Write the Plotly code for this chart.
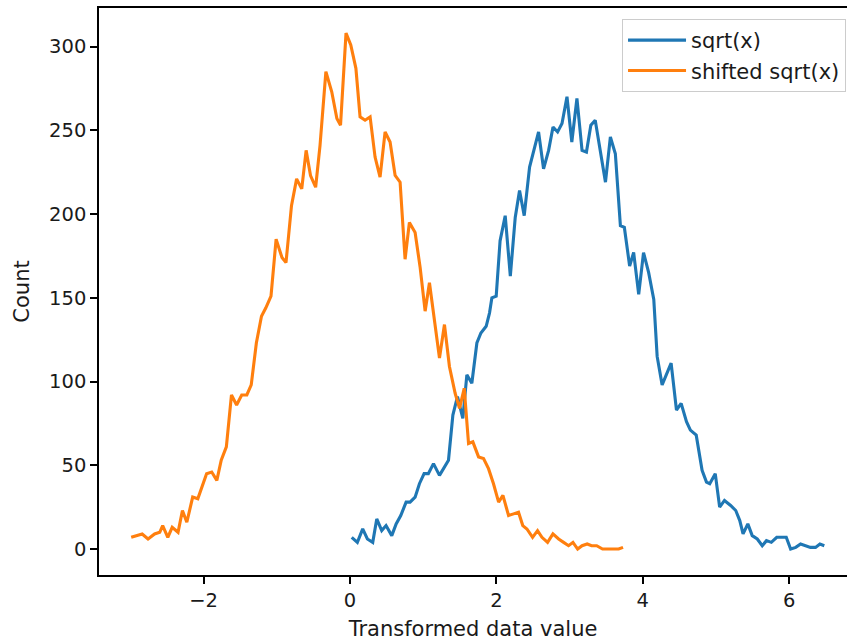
import plotly.graph_objects as go

# sqrt(x) histogram counts (bin position, count)
sqrt_x = [0.023, 0.10, 0.173, 0.237, 0.31, 0.365, 0.433, 0.492, 0.57, 0.63, 0.693, 0.766, 0.82, 0.889,
          0.948, 1.012, 1.07, 1.14, 1.222, 1.286, 1.345, 1.405, 1.468, 1.541, 1.596, 1.664, 1.733, 1.788,
          1.86, 1.906, 1.938, 1.997, 2.05, 2.12, 2.19, 2.257, 2.316, 2.38, 2.453, 2.576, 2.644, 2.713,
          2.773, 2.836, 2.896, 2.964, 3.03, 3.10, 3.17, 3.23, 3.29, 3.35, 3.42, 3.49, 3.557, 3.625, 3.694,
          3.748, 3.82, 3.875, 3.944, 4.01, 4.08, 4.15, 4.196, 4.264, 4.387, 4.46, 4.524, 4.597, 4.65, 4.73,
          4.81, 4.87, 4.915, 4.99, 5.05, 5.116, 5.2, 5.27, 5.325, 5.37, 5.435, 5.495, 5.564, 5.632, 5.69,
          5.756, 5.83, 5.906, 5.96, 6.02, 6.09, 6.156, 6.22, 6.29, 6.36, 6.42, 6.48]
sqrt_count = [7, 4, 12, 6, 4, 18, 11, 14, 8, 15, 20, 28, 28, 31,
              39, 45, 45, 51, 44, 49, 53, 80, 91, 78, 104, 99, 123, 129,
              133, 141, 150, 151, 184, 199, 163, 198, 214, 199, 228, 249, 227, 238,
              252, 249, 254, 270, 243, 269, 238, 237, 253, 256, 238, 219, 246, 236, 193,
              192, 169, 177, 152, 177, 165, 149, 115, 98, 111, 83, 87, 76, 71, 68,
              47, 40, 39, 45, 25, 29, 26, 23, 17, 9, 15, 8, 6, 2, 5,
              4, 7, 7, 7, 0, 1, 3, 2, 1, 1, 3, 2]

# shifted sqrt(x) histogram counts
shift_x = [-2.99, -2.84, -2.76, -2.67, -2.60, -2.56, -2.49, -2.43, -2.35, -2.29, -2.23, -2.15, -2.08,
           -1.96, -1.89, -1.82, -1.76, -1.69, -1.62, -1.55, -1.48, -1.41, -1.35, -1.28, -1.21, -1.15,
           -1.08, -1.01, -0.93, -0.875, -0.80, -0.73, -0.66, -0.60, -0.54, -0.47, -0.41, -0.33, -0.25,
           -0.18, -0.13, -0.055, 0.01, 0.08, 0.137, 0.205, 0.274, 0.342, 0.41, 0.479, 0.547, 0.616,
           0.684, 0.752, 0.811, 0.889, 0.958, 1.026, 1.085, 1.15, 1.222, 1.29, 1.358, 1.436, 1.496,
           1.56, 1.619, 1.678, 1.756, 1.824, 1.892, 1.96, 2.03, 2.089, 2.166, 2.234, 2.302, 2.36,
           2.417, 2.494, 2.562, 2.622, 2.699, 2.772, 2.85, 2.918, 2.986, 3.046, 3.11, 3.17, 3.24,
           3.30, 3.37, 3.45, 3.53, 3.60, 3.67, 3.73]
shift_count = [7, 9, 6, 9, 10, 14, 7, 13, 10, 23, 16, 31, 30,
               45, 46, 41, 53, 61, 92, 86, 92, 92, 98, 123, 139, 144,
               151, 185, 174, 171, 205, 221, 215, 238, 223, 216, 241, 285, 273,
               257, 253, 308, 301, 287, 258, 256, 258, 234, 222, 249, 243, 223,
               219, 173, 195, 189, 168, 142, 159, 136, 114, 134, 109, 93, 84,
               96, 63, 64, 55, 54, 48, 39, 28, 32, 20, 21, 22, 14,
               12, 7, 11, 7, 4, 9, 6, 4, 2, 4, 0, 2, 3,
               2, 2, 0, 0, 0, 0, 1]

x_ticks = [-2, 0, 2, 4, 6]
x_ticktext = ["\u22122", "0", "2", "4", "6"]
y_ticks = [0, 50, 100, 150, 200, 250, 300]

FONT = "DejaVu Sans"
TICK_FS = 19.5
TEXT_FS = 21
TEXT_COLOR = "#1a1a1a"

fig = go.Figure()
fig.add_trace(go.Scatter(x=sqrt_x, y=sqrt_count, mode="lines", name="sqrt(x)",
                         line=dict(color="#1f77b4", width=3.1)))
fig.add_trace(go.Scatter(x=shift_x, y=shift_count, mode="lines", name="shifted sqrt(x)",
                         line=dict(color="#ff7f0e", width=3.1)))

fig.update_layout(
    width=847, height=641,
    margin=dict(l=99, r=0, t=8, b=66),
    plot_bgcolor="white", paper_bgcolor="white",
    font=dict(family=FONT, size=TICK_FS, color=TEXT_COLOR),
    showlegend=True,
    legend=dict(x=0.9987, y=1 - 11 / 567, xanchor="right", yanchor="top",
                bordercolor="#cccccc", borderwidth=1, bgcolor="rgba(255,255,255,0.8)",
                itemwidth=58,
                font=dict(family=FONT, size=TEXT_FS, color=TEXT_COLOR)),
    xaxis=dict(range=[-3.43, 6.79], tickvals=x_ticks, ticktext=x_ticktext,
               showline=True, linecolor="black", linewidth=1.5, mirror=True,
               ticks="outside", ticklen=7, tickwidth=1.5, tickcolor="black",
               showgrid=False, zeroline=False,
               tickfont=dict(family=FONT, size=TICK_FS, color=TEXT_COLOR),
               title=dict(text="Transformed data value", standoff=12,
                          font=dict(family=FONT, size=TEXT_FS, color=TEXT_COLOR))),
    yaxis=dict(range=[-15.5, 323], tickvals=y_ticks,
               showline=True, linecolor="black", linewidth=1.5, mirror=False,
               ticks="outside", ticklen=7, tickwidth=1.5, tickcolor="black",
               showgrid=False, zeroline=False,
               tickfont=dict(family=FONT, size=TICK_FS, color=TEXT_COLOR),
               title=dict(text="Count", standoff=14,
                          font=dict(family=FONT, size=TEXT_FS, color=TEXT_COLOR))),
)

fig.write_html("out.html")
